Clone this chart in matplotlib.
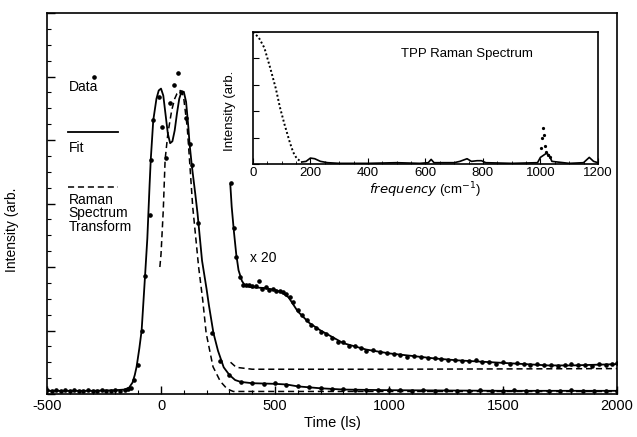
import numpy as np
import matplotlib
matplotlib.use("Agg")
import matplotlib.pyplot as plt
from matplotlib.ticker import MultipleLocator, NullFormatter

plt.rcParams['font.family'] = ['Liberation Sans', 'DejaVu Sans']
plt.rcParams['axes.unicode_minus'] = False

# ---- main panel: fit (solid) ----
fit_t = [-500, -300, -200, -160, -140, -125, -115, -107, -95, -85, -78, -70, -60, -50, -45,
         -34, -20, -10, 0, 10, 20, 30, 40, 50, 60, 70, 80, 90, 100, 110, 120, 125, 135,
         150, 160, 180, 200, 210, 230, 250, 275, 300, 325, 350, 400, 500, 550, 600, 700,
         800, 1000, 1500, 2000]
fit_y = [0.05, 0.05, 0.06, 0.07, 0.10, 0.18, 0.30, 0.43, 0.72, 1.00, 1.40, 1.86, 2.45, 3.30, 3.69,
         4.31, 4.65, 4.78, 4.81, 4.70, 4.40, 4.10, 3.95, 3.98, 4.15, 4.42, 4.65, 4.76, 4.76, 4.60,
         4.20, 3.95, 3.60, 3.16, 2.85, 2.10, 1.65, 1.40, 0.96, 0.68, 0.42, 0.30, 0.22, 0.19, 0.17,
         0.16, 0.15, 0.12, 0.09, 0.07, 0.06, 0.05, 0.05]

# ---- main panel: Raman spectrum transform (dashed) ----
rst_t = [-5, 0, 10, 18, 30, 47, 60, 70, 84, 95, 100, 115, 125, 139, 150, 165, 183, 198,
         228, 260, 290, 317, 400, 1000, 2000]
rst_y = [2.00, 2.20, 2.90, 3.69, 4.10, 4.47, 4.65, 4.73, 4.78, 4.72, 4.65, 4.20, 3.69, 2.95,
         2.55, 2.00, 1.48, 0.96, 0.43, 0.20, 0.08, 0.04, 0.04, 0.04, 0.04]

# ---- main panel: data points ----
data_t = [-500, -480, -460, -440, -420, -400, -380, -360, -340, -320, -300, -280, -260, -240,
          -220, -200, -180, -160, -145, -130, -117, -100, -85, -70, -48, -45, -34, -7, 3, 22,
          40, 57, 76, 87, 110, 125, 135, 164, 225, 260, 300, 350, 400, 450, 500, 550, 600,
          650, 700, 750, 800, 850, 900, 950, 1000, 1050, 1100, 1150, 1200, 1250, 1300, 1350,
          1400, 1450, 1500, 1550, 1600, 1650, 1700, 1750, 1800, 1850, 1900, 1950, 2000]
data_y = [0.06, 0.05, 0.07, 0.04, 0.06, 0.05, 0.06, 0.04, 0.05, 0.06, 0.05, 0.04, 0.06, 0.05,
          0.05, 0.06, 0.05, 0.07, 0.08, 0.10, 0.22, 0.45, 1.00, 1.86, 2.82, 3.69, 4.31, 4.68,
          4.21, 3.72, 4.58, 4.87, 5.06, 4.76, 4.34, 3.93, 3.60, 2.69, 0.96, 0.52, 0.30, 0.19,
          0.18, 0.16, 0.17, 0.14, 0.12, 0.11, 0.09, 0.08, 0.08, 0.07, 0.07, 0.06, 0.07, 0.06,
          0.05, 0.06, 0.05, 0.06, 0.05, 0.05, 0.06, 0.05, 0.05, 0.06, 0.05, 0.05, 0.04, 0.05,
          0.06, 0.05, 0.05, 0.04, 0.05]

# ---- x 20 tail ----
x20_fit_t = [304, 310, 320, 330, 340, 355, 370, 400, 450, 500, 530, 560, 600, 650, 700, 750,
             800, 900, 1000, 1100, 1200, 1300, 1400, 1500, 1600, 1700, 1800, 1900, 2000]
x20_fit_y = [3.30, 2.95, 2.55, 2.20, 1.95, 1.78, 1.70, 1.68, 1.67, 1.64, 1.60, 1.52, 1.30,
             1.12, 1.00, 0.90, 0.80, 0.70, 0.64, 0.60, 0.56, 0.53, 0.51, 0.49, 0.47, 0.45,
             0.45, 0.46, 0.47]
x20_rst_t = [305, 330, 400, 1000, 2000]
x20_rst_y = [0.50, 0.42, 0.39, 0.39, 0.40]
x20_data_t = [305, 318, 330, 345, 360, 372, 385, 400, 415, 430, 445, 460, 475, 490, 505, 520,
              535, 550, 565, 580, 600, 620, 640, 660, 680, 700, 725, 750, 775, 800, 825, 850,
              875, 900, 930, 960, 990, 1020, 1050, 1080, 1110, 1140, 1170, 1200, 1230, 1260,
              1290, 1320, 1350, 1380, 1410, 1440, 1470, 1500, 1530, 1560, 1590, 1620, 1650,
              1680, 1710, 1740, 1770, 1800, 1830, 1860, 1890, 1920, 1950, 1980, 2000]
x20_data_y = [3.32, 2.62, 2.15, 1.85, 1.72, 1.72, 1.71, 1.70, 1.70, 1.78, 1.66, 1.68, 1.64,
              1.66, 1.62, 1.63, 1.60, 1.58, 1.52, 1.45, 1.33, 1.24, 1.16, 1.08, 1.04, 0.98,
              0.94, 0.88, 0.82, 0.82, 0.76, 0.75, 0.72, 0.68, 0.70, 0.66, 0.65, 0.63, 0.62,
              0.58, 0.60, 0.58, 0.56, 0.57, 0.55, 0.53, 0.54, 0.52, 0.52, 0.53, 0.50, 0.51,
              0.48, 0.50, 0.47, 0.49, 0.48, 0.46, 0.47, 0.45, 0.46, 0.44, 0.46, 0.47, 0.45,
              0.46, 0.44, 0.47, 0.45, 0.48, 0.49]

# ---- inset: TPP Raman spectrum ----
low_f = [0, 20, 40, 60, 80, 94, 110, 129, 140, 153, 170]
low_i = [1.00, 0.96, 0.88, 0.73, 0.57, 0.43, 0.30, 0.16, 0.09, 0.04, 0.015]
spec_f = [170, 185, 200, 215, 235, 260, 300, 400, 500, 580, 610, 620, 630, 700, 720, 745, 760,
          780, 795, 810, 900, 990, 1000, 1020, 1030, 1040, 1100, 1150, 1170, 1185, 1200]
spec_i = [0.015, 0.02, 0.045, 0.04, 0.02, 0.01, 0.005, 0.005, 0.01, 0.005, 0.01, 0.035, 0.01,
          0.01, 0.02, 0.04, 0.02, 0.025, 0.025, 0.01, 0.005, 0.01, 0.05, 0.08, 0.07, 0.02,
          0.005, 0.01, 0.05, 0.02, 0.01]
peak_f = [1002, 1006, 1009, 1012, 1016, 1020, 1026, 1032]
peak_i = [0.12, 0.20, 0.27, 0.22, 0.14, 0.09, 0.07, 0.05]

fig = plt.figure(figsize=(6.37, 4.37), dpi=100)
ax = fig.add_axes([0.0738, 0.0984, 0.8948, 0.8718])

ax.plot(fit_t, fit_y, color='black', lw=1.3)
ax.plot(rst_t, rst_y, color='black', lw=1.1, ls=(0, (4, 2.5)))
ax.plot(data_t, data_y, 'o', color='black', ms=2.3)
ax.plot(x20_fit_t, x20_fit_y, color='black', lw=1.3)
ax.plot(x20_rst_t, x20_rst_y, color='black', lw=1.1, ls=(0, (4, 2.5)))
ax.plot(x20_data_t, x20_data_y, 'o', color='black', ms=2.3)

ax.set_xlim(-500, 2000)
ax.set_ylim(0, 6)
ax.xaxis.set_major_locator(MultipleLocator(500))
ax.xaxis.set_minor_locator(MultipleLocator(100))
ax.yaxis.set_major_locator(MultipleLocator(1))
ax.yaxis.set_minor_locator(MultipleLocator(0.25))
ax.yaxis.set_major_formatter(NullFormatter())
ax.tick_params(which='both', direction='in', top=False, right=False, labelsize=10.5)
ax.tick_params(which='major', length=6, width=1)
ax.tick_params(which='minor', length=3, width=0.8)
for s in ax.spines.values():
    s.set_linewidth(1.2)
ax.set_xlabel('Time (ls)', fontsize=10.5, labelpad=2)
ax.set_ylabel('Intensity (arb.', fontsize=10)
ax.yaxis.set_label_coords(-0.05, 0.43)

# legend drawn as in the original
ax.plot([-293], [5.0], 'o', color='black', ms=2.3)
ax.text(-405, 4.83, 'Data', fontsize=10, va='center', ha='left')
ax.plot([-408, -188], [4.13, 4.13], color='black', lw=1.3)
ax.text(-405, 3.87, 'Fit', fontsize=10, va='center', ha='left')
ax.plot([-408, -190], [3.26, 3.26], color='black', lw=1.1, ls=(0, (4, 2.5)))
ax.text(-405, 3.17, 'Raman\nSpectrum\nTransform', fontsize=10, va='top', ha='left',
        linespacing=0.98)
ax.text(392, 2.14, 'x 20', fontsize=10, va='center', ha='left')

# inset
ins = fig.add_axes([0.397, 0.6247, 0.5416, 0.302])
ins.plot(low_f, low_i, color='black', lw=1.4, ls=(0, (1, 1.2)))
ins.plot(spec_f, spec_i, color='black', lw=1.2)
ins.plot(peak_f, peak_i, 'o', color='black', ms=1.3)
ins.set_xlim(0, 1200)
ins.set_ylim(0, 1)
ins.xaxis.set_major_locator(MultipleLocator(200))
ins.xaxis.set_minor_locator(MultipleLocator(50))
ins.yaxis.set_major_locator(MultipleLocator(0.2))
ins.yaxis.set_major_formatter(NullFormatter())
ins.tick_params(which='both', direction='in', top=False, right=False, labelsize=9.5, pad=2)
ins.tick_params(which='major', length=4)
ins.tick_params(which='minor', length=2)
for s in ins.spines.values():
    s.set_linewidth(1.2)
ins.set_xlabel('$\\it{frequency}$ (cm$^{-1}$)', fontsize=9.5, labelpad=1)
ins.set_ylabel('Intensity (arb.', fontsize=9.5)
ins.yaxis.set_label_coords(-0.05, 0.4)
ins.text(0.62, 0.83, 'TPP Raman Spectrum', transform=ins.transAxes, fontsize=9.5,
         ha='center', va='center')

fig.savefig('out.png', dpi=100)
